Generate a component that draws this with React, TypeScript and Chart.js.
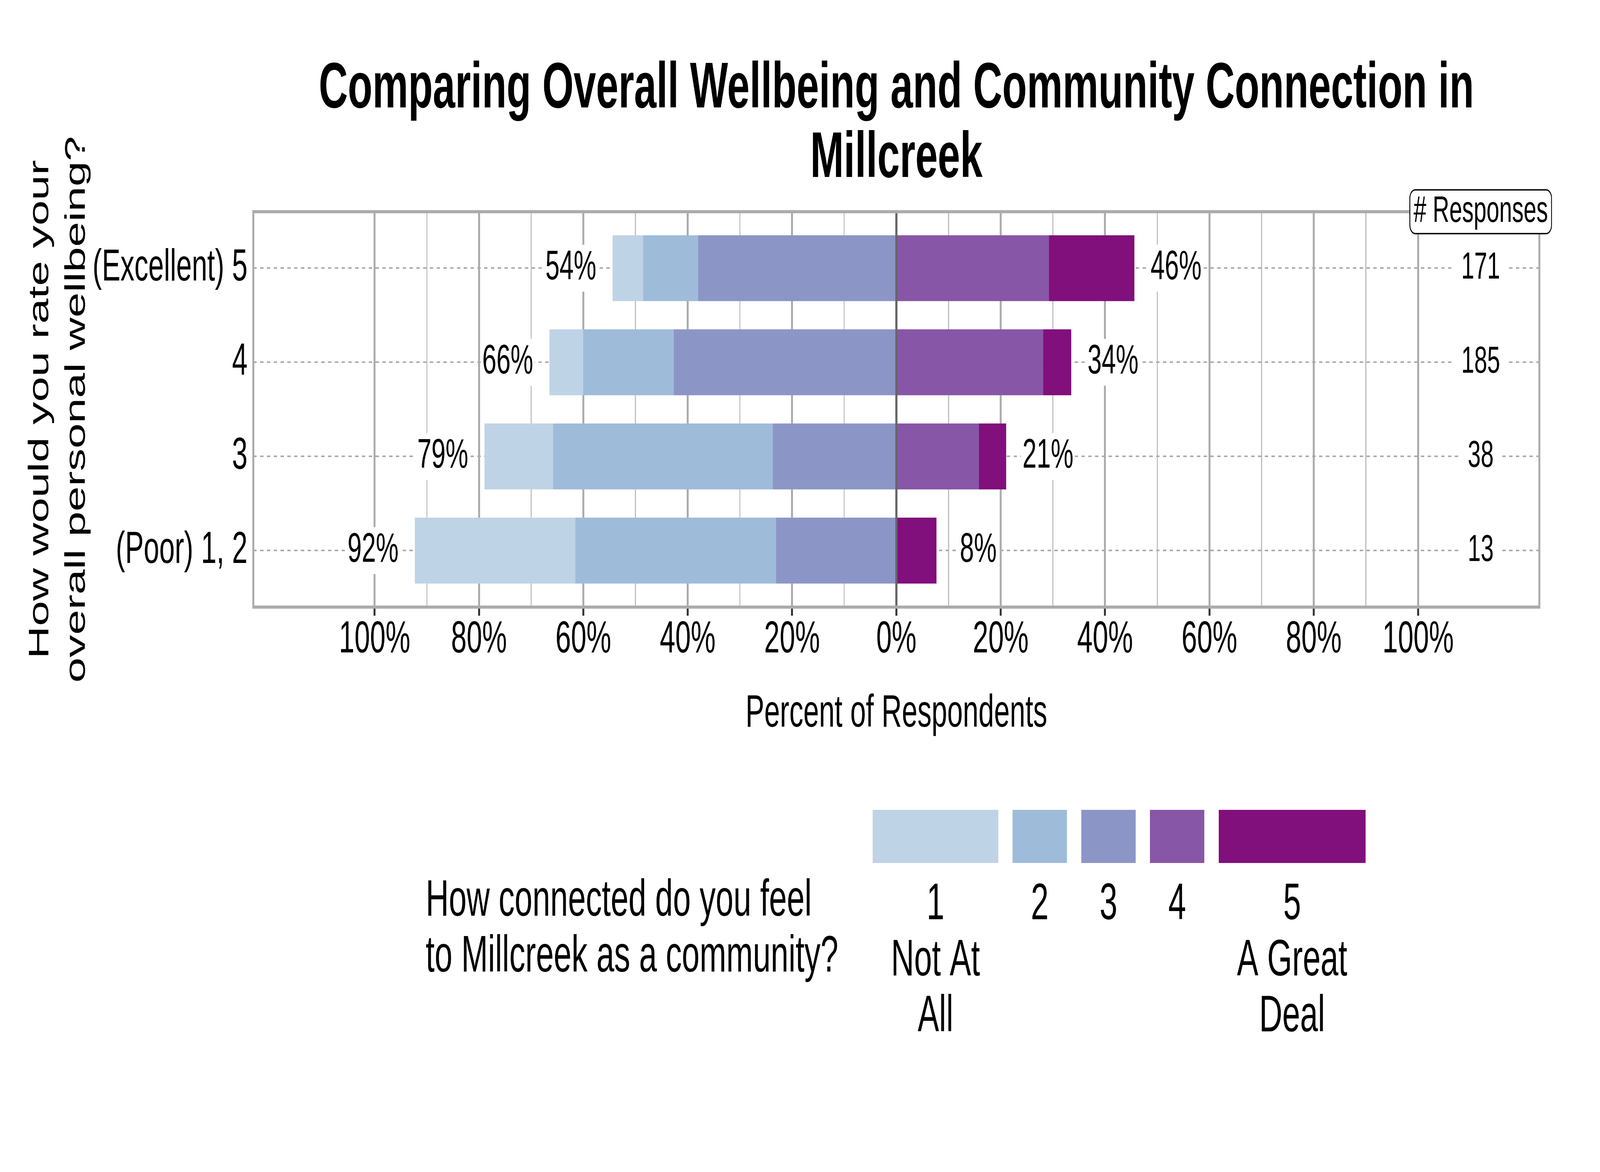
import { useEffect, useRef } from 'react';
import { Chart, registerables } from 'chart.js';

// Register Chart.js components
Chart.register(...registerables);

const FONT = '"Liberation Sans", Arial, Helvetica, sans-serif';

// Rows: how people rate their own wellbeing (top to bottom)
const categories = ['(Excellent) 5', '4', '3', '(Poor) 1, 2'];

// Percent of respondents for each "how connected" answer
const notAtAll = [5.85, 6.49, 13.16, 30.77];
const connected2 = [10.53, 17.3, 42.11, 38.46];
const connected3 = [38.01, 42.7, 23.68, 23.08];
const connected4 = [29.24, 28.11, 15.79, 0];
const aGreatDeal = [16.37, 5.41, 5.26, 7.69];

// Number of responses per row
const responses = [171, 185, 38, 13];

// Grid positions on the percent axis
const xTicks = [-100, -90, -80, -70, -60, -50, -40, -30, -20, -10, 0, 10, 20, 30, 40, 50, 60, 70, 80, 90, 100];

const levelColors = ['#BFD3E6', '#9EBCDA', '#8C96C6', '#8856A7', '#810F7C'];
const legendLabels = [['1', 'Not At', 'All'], ['2'], ['3'], ['4'], ['5', 'A Great', 'Deal']];
const legendTitle = ['How connected do you feel', 'to Millcreek as a community?'];
const titleLines = ['Comparing Overall Wellbeing and Community Connection in', 'Millcreek'];
const yTitleLines = ['How would you rate your', 'overall personal wellbeing?'];
const xTitle = 'Percent of Respondents';
const responsesHeader = '# Responses';

const overlayPlugin = {
  id: 'likertOverlay',
  afterDatasetsDraw(chart: any) {
    const { ctx, chartArea: a } = chart;
    const x = chart.scales.x;
    const y = chart.scales.y;
    ctx.save();
    ctx.textBaseline = 'middle';
    ctx.textAlign = 'center';

    categories.forEach((_, i) => {
      const leftTotal = notAtAll[i] + connected2[i] + connected3[i];
      const rightTotal = connected4[i] + aGreatDeal[i];
      const yp = y.getPixelForValue(i);

      // total percent labels either side of the bar
      ctx.font = `105px ${FONT}`;
      const sides: [number, number][] = [
        [-(leftTotal + 8), leftTotal],
        [rightTotal + 8, rightTotal],
      ];
      sides.forEach(([pos, val]) => {
        const txt = `${Math.round(val)}%`;
        const w = ctx.measureText(txt).width + 12;
        const xp = x.getPixelForValue(pos);
        ctx.fillStyle = '#ffffff';
        ctx.fillRect(xp - w / 2, yp - 60, w, 120);
        ctx.fillStyle = '#000000';
        ctx.fillText(txt, xp, yp);
      });

      // response counts column
      ctx.font = `96px ${FONT}`;
      const n = String(responses[i]);
      const nw = ctx.measureText(n).width + 58;
      const nx = x.getPixelForValue(112);
      ctx.fillStyle = '#ffffff';
      ctx.fillRect(nx - nw / 2, yp - 60, nw, 120);
      ctx.fillStyle = '#000000';
      ctx.fillText(n, nx, yp);
    });

    // panel border
    ctx.strokeStyle = '#ABABAB';
    ctx.lineWidth = 8;
    ctx.strokeRect(a.left, a.top, a.right - a.left, a.bottom - a.top);

    // "# Responses" header box
    ctx.font = `95px ${FONT}`;
    const hx = x.getPixelForValue(112);
    const hw = ctx.measureText(responsesHeader).width + 30;
    const hh = 112;
    ctx.beginPath();
    ctx.roundRect(hx - hw / 2, a.top - hh / 2, hw, hh, 22);
    ctx.fillStyle = '#ffffff';
    ctx.fill();
    ctx.strokeStyle = '#000000';
    ctx.lineWidth = 3.5;
    ctx.stroke();
    ctx.fillStyle = '#000000';
    ctx.fillText(responsesHeader, hx, a.top);
    ctx.restore();
  },
  afterDraw(chart: any) {
    const { ctx } = chart;
    ctx.save();
    ctx.font = `132px ${FONT}`;
    ctx.fillStyle = '#000000';
    ctx.textBaseline = 'alphabetic';
    ctx.textAlign = 'left';
    legendTitle.forEach((line, j) => ctx.fillText(line, 1756, 2344 + j * 143));

    let bx = 3600;
    legendLabels.forEach((lines, k) => {
      const w = Math.max(...lines.map((l) => ctx.measureText(l).width)) + 151;
      ctx.fillStyle = levelColors[k];
      ctx.fillRect(bx, 2073, w, 136);
      ctx.fillStyle = '#000000';
      ctx.textAlign = 'center';
      lines.forEach((l, j) => ctx.fillText(l, bx + w / 2, 2353 + j * 143.5));
      bx += w + 59;
    });
    ctx.restore();
  },
};

const App = () => {
  const chartRef = useRef<HTMLCanvasElement>(null);
  const chartInstance = useRef<Chart | null>(null);

  useEffect(() => {
    if (!chartRef.current) return;
    if (chartInstance.current) chartInstance.current.destroy();

    // negative stacks build outward from zero: 3, then 2, then 1
    const levels = [
      { label: '3', values: connected3, color: levelColors[2], sign: -1 },
      { label: '2', values: connected2, color: levelColors[1], sign: -1 },
      { label: '1', values: notAtAll, color: levelColors[0], sign: -1 },
      { label: '4', values: connected4, color: levelColors[3], sign: 1 },
      { label: '5', values: aGreatDeal, color: levelColors[4], sign: 1 },
    ];

    const ctx = chartRef.current.getContext('2d');
    if (!ctx) return;

    chartInstance.current = new Chart(ctx, {
      type: 'bar',
      data: {
        datasets: levels.map((l) => ({
          label: l.label,
          data: l.values.map((v, i) => ({ x: l.sign * v, y: i })),
          backgroundColor: l.color,
          borderWidth: 0,
          barPercentage: 0.7,
          categoryPercentage: 1,
        })),
      },
      plugins: [overlayPlugin],
      options: {
        indexAxis: 'y',
        responsive: false,
        animation: false,
        devicePixelRatio: 1,
        events: [],
        layout: {
          padding: { left: 0, right: 250, top: 0, bottom: 1102 },
        },
        plugins: {
          legend: { display: false },
          tooltip: { enabled: false },
          title: {
            display: true,
            text: titleLines,
            fullSize: false,
            color: '#000000',
            font: { family: FONT, size: 166, weight: 'bold', lineHeight: 1.072 },
            padding: { top: 140.5, bottom: 45.5 },
          },
        },
        scales: {
          x: {
            type: 'linear',
            stacked: true,
            min: -123.25,
            max: 123.25,
            offset: false,
            afterBuildTicks: (s: any) => {
              s.ticks = xTicks.map((v) => ({ value: v }));
            },
            afterFit: (s: any) => {
              s.height = 344;
            },
            ticks: {
              autoSkip: false,
              maxRotation: 0,
              padding: 4.5,
              color: '#000000',
              font: { family: FONT, size: 115, lineHeight: 1 },
              callback: (value: any) => (Number(value) % 20 === 0 ? `${Math.abs(Number(value))}%` : ''),
            },
            grid: {
              offset: false,
              color: (c: any) =>
                c.tick.value === 0 ? '#666666' : c.tick.value % 20 === 0 ? '#ABABAB' : '#B8B8B8',
              lineWidth: (c: any) => (c.tick.value === 0 ? 9 : c.tick.value % 20 === 0 ? 8 : 4),
              tickColor: (c: any) => (c.tick.value % 20 === 0 ? '#333333' : 'rgba(0,0,0,0)'),
              tickWidth: 8,
              tickLength: 22,
            },
            border: { display: false },
            title: {
              display: true,
              text: xTitle,
              color: '#000000',
              font: { family: FONT, size: 116, lineHeight: 1.2 },
              padding: { top: 0, bottom: 0 },
            },
          },
          y: {
            type: 'linear',
            stacked: true,
            reverse: true,
            offset: false,
            min: -0.6,
            max: 3.6,
            afterBuildTicks: (s: any) => {
              s.ticks = categories.map((_, i) => ({ value: i }));
            },
            afterFit: (s: any) => {
              s.width = 1045;
            },
            ticks: {
              padding: 24,
              color: '#000000',
              font: { family: FONT, size: 115 },
              callback: (value: any) => categories[Number(value)] ?? '',
            },
            grid: {
              offset: false,
              color: '#ABABAB',
              lineWidth: 4,
              drawTicks: false,
            },
            border: { display: false, dash: [14, 14] },
            title: {
              display: true,
              text: yTitleLines,
              color: '#000000',
              font: { family: FONT, size: 116, lineHeight: 1.3 },
              padding: { top: 91.5, bottom: 0 },
            },
          },
        },
      } as any,
    });

    return () => {
      if (chartInstance.current) {
        chartInstance.current.destroy();
        chartInstance.current = null;
      }
    };
  }, []);

  // the chart is drawn at 6600x3000 and shown across the whole window
  return (
    <div style={{ position: 'fixed', left: 0, top: 0, width: '100%', height: '100%', background: '#ffffff' }}>
      <canvas
        ref={chartRef}
        width={6600}
        height={3000}
        style={{ display: 'block', width: '100%', height: '100%' }}
      />
    </div>
  );
};

export default App;
